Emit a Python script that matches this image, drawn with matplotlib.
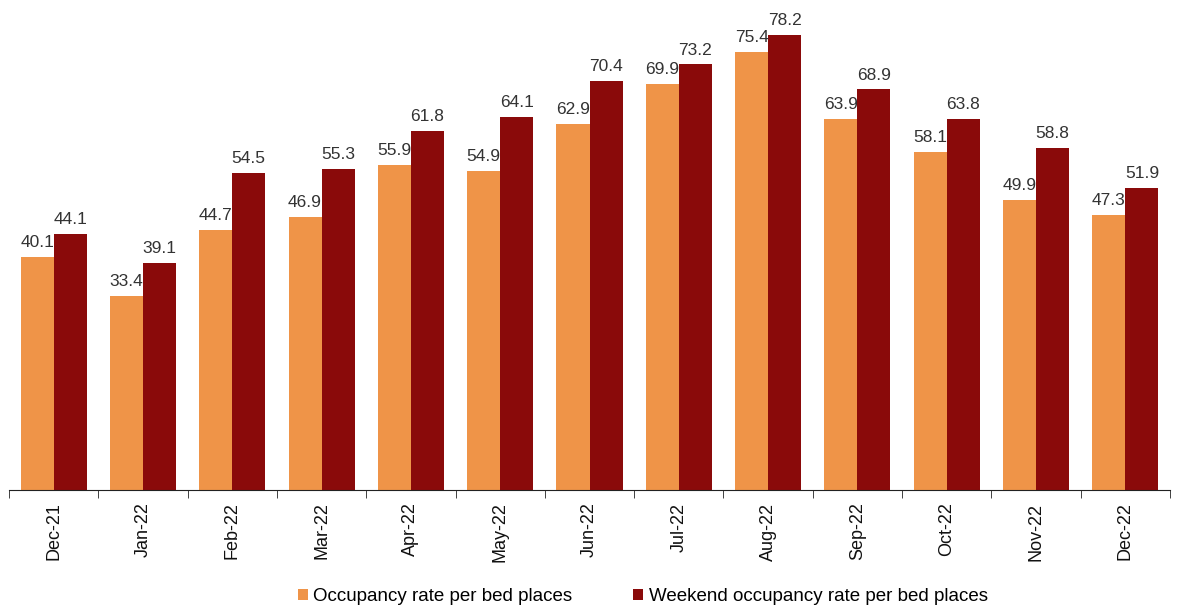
import matplotlib.pyplot as plt
import numpy as np

plt.rcParams['font.family'] = ['Liberation Sans', 'DejaVu Sans']

months = ["Dec-21", "Jan-22", "Feb-22", "Mar-22", "Apr-22", "May-22", "Jun-22",
          "Jul-22", "Aug-22", "Sep-22", "Oct-22", "Nov-22", "Dec-22"]
occupancy = [40.1, 33.4, 44.7, 46.9, 55.9, 54.9, 62.9, 69.9, 75.4, 63.9, 58.1, 49.9, 47.3]
weekend = [44.1, 39.1, 54.5, 55.3, 61.8, 64.1, 70.4, 73.2, 78.2, 68.9, 63.8, 58.8, 51.9]

ORANGE = "#EF9448"
RED = "#8A0A0A"
TEXT = "#333333"

fig = plt.figure(figsize=(11.79, 6.16), dpi=100)
ax = fig.add_axes([0.0076, 0.2045, 0.9848, 0.755])

x = np.arange(len(months))
w = 0.37
b1 = ax.bar(x - w / 2, occupancy, w, color=ORANGE, label="Occupancy rate per bed places")
b2 = ax.bar(x + w / 2, weekend, w, color=RED, label="Weekend occupancy rate per bed places")

for rects, vals in ((b1, occupancy), (b2, weekend)):
    for r, v in zip(rects, vals):
        ax.text(r.get_x() + r.get_width() / 2, v + 1.2, f"{v:.1f}",
                ha="center", va="bottom", fontsize=12.5, color=TEXT)

ax.set_xlim(-0.5, len(months) - 0.5)
ax.set_ylim(0, 80)
ax.set_yticks([])
for s in ("left", "right", "top"):
    ax.spines[s].set_visible(False)
ax.spines["bottom"].set_color("#222222")

ax.set_xticks(x)
ax.set_xticklabels(months, rotation=90, fontsize=13, color="#111111")
ax.tick_params(axis="x", which="major", length=0, pad=9)
ax.set_xticks(np.arange(-0.5, len(months), 1), minor=True)
ax.tick_params(axis="x", which="minor", length=6, direction="out", color="#222222")

fig.legend(handles=[b1, b2], loc="lower center", bbox_to_anchor=(0.545, -0.01),
           ncol=2, frameon=False, fontsize=13.5, handlelength=0.55, handleheight=0.55,
           handletextpad=0.3, columnspacing=3.2)

fig.savefig("out.png", dpi=100)
